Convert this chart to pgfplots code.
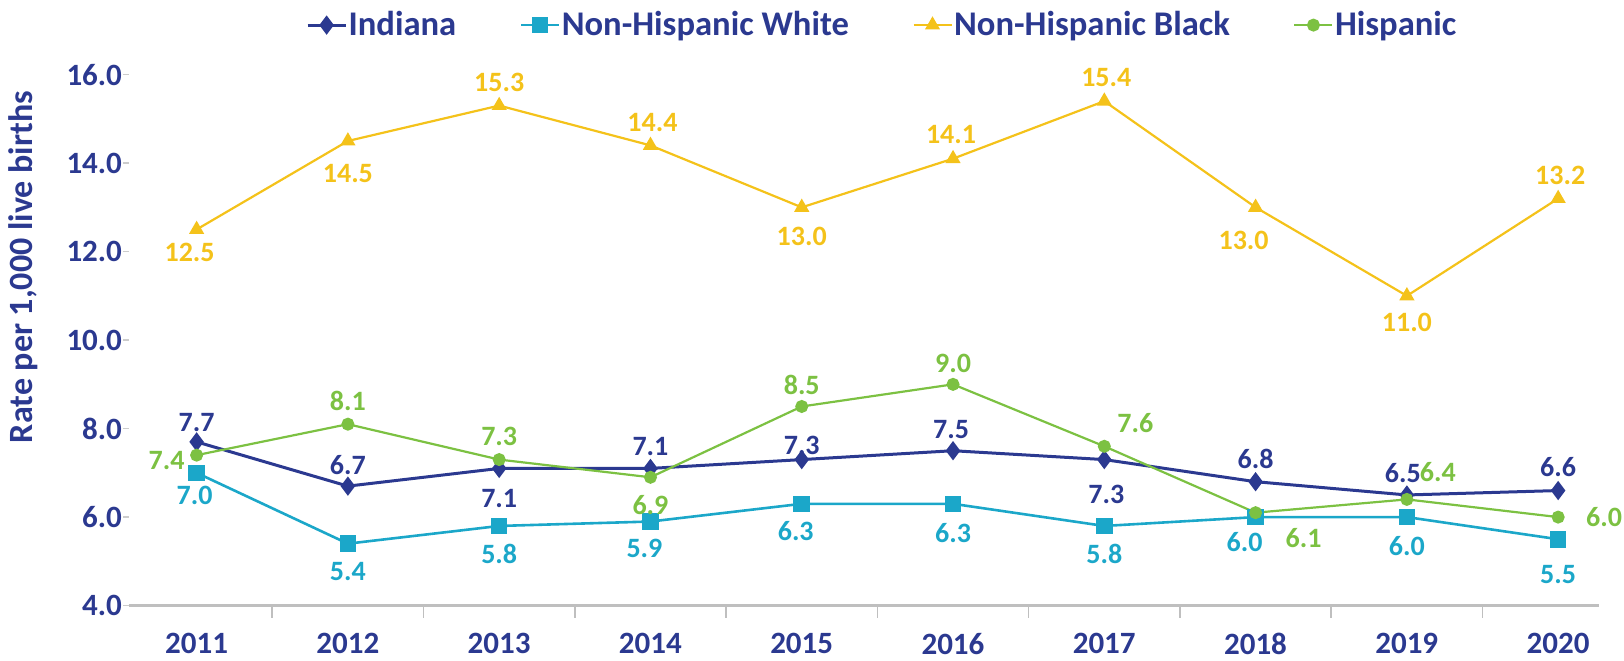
\documentclass[border=0pt]{standalone}
\usepackage{fontspec}
\setmainfont{Carlito}
\usepackage{pgfplots}
\usepackage{pgfplotstable}
\pgfplotsset{compat=1.18}

\definecolor{navy}{HTML}{2B3990}
\definecolor{cyanw}{HTML}{1BA7C9}
\definecolor{goldb}{HTML}{F4C21A}
\definecolor{greenh}{HTML}{7CC142}

% x  y  label offsets (pt)
\pgfplotstableread{
x    y    dx   dy
2011 7.7  0    9.5
2012 6.7  0    10.5
2013 7.1  0   -15
2014 7.1  0    11
2015 7.3  0    7
2016 7.5 -1    10.5
2017 7.3  1   -17.5
2018 6.8  0    11.5
2019 6.5 -2    11
2020 6.6  0    12
}\indiana

\pgfplotstableread{
x    y    dx   dy
2011 7.0 -1   -11.5
2012 5.4  0   -14
2013 5.8  0   -14
2014 5.9 -3   -13.5
2015 6.3 -3   -13.5
2016 6.3  0   -14.5
2017 5.8  0   -14
2018 6.0 -5.5 -12.5
2019 6.0  0   -14.5
2020 5.5  0   -17.5
}\white

\pgfplotstableread{
x    y    dx   dy
2011 12.5 -3.5 -11.5
2012 14.5  0   -16.5
2013 15.3  0    11.5
2014 14.4  1    11.5
2015 13.0  0   -14.5
2016 14.1 -1    12
2017 15.4  1    12
2018 13.0 -6   -16.5
2019 11.0  0   -13.5
2020 13.2  1    11.5
}\black

\pgfplotstableread{
x    y    dx   dy
2011 7.4 -15   -2.5
2012 8.1  0    11.5
2013 7.3  0    11.5
2014 6.9  0   -14
2015 8.5  0    11
2016 9.0  0    10.5
2017 7.6  15.5 11.5
2018 6.1  24  -12.5
2019 6.4  15.5 13.5
2020 6.0  23   0
}\hispanic

\begin{document}
\begin{tikzpicture}
\path[use as bounding box] (-64.5pt,-27.2pt) rectangle (747.5pt,302.8pt);
\begin{axis}[
    scale only axis,
    width=735pt, height=265.5pt,
    xmin=2010.553, xmax=2020.27,
    ymin=4, ymax=16,
    xtick={2011,...,2020},
    minor xtick={2011.5,2012.5,...,2019.5},
    ytick={4,6,...,16},
    axis lines*=left,
    x axis line style={draw=black!25, line width=1.2pt},
    y axis line style={draw=none},
    tick align=outside,
    major x tick style={draw=none},
    minor x tick style={draw=black!25, line width=0.8pt},
    minor tick length=6pt,
    y tick style={draw=black!20, line width=0.8pt},
    major tick length=3pt,
    /pgf/number format/assume math mode=true,
    xticklabel style={/pgf/number format/1000 sep={}, font=\fontsize{15.5}{16}\selectfont\bfseries, text=navy, anchor=center, yshift=-16pt},
    yticklabel style={/pgf/number format/fixed, /pgf/number format/zerofill, /pgf/number format/precision=1, font=\fontsize{15.5}{16}\selectfont\bfseries, text=navy, xshift=3pt},
    ylabel={Rate per 1,000 live births},
    ylabel style={at={(rel axis cs:0,0.6375)}, anchor=center, yshift=53pt, font=\fontsize{17}{18}\selectfont\bfseries, text=navy},
    legend style={at={(rel axis cs:0.5,1)}, anchor=center, xshift=9pt, yshift=24.75pt, draw=none, fill=none,
        font=\fontsize{17.3}{18}\selectfont\bfseries, text=navy,
        nodes={inner xsep=0.75pt},
        /tikz/every even column/.append style={column sep=31pt}},
    legend columns=4,
    legend image code/.code={\draw[mark repeat=2,mark phase=2] plot coordinates {(0pt,0pt) (9.5pt,0pt) (19pt,0pt)};},
    visualization depends on={\thisrow{dx}\as\dx},
    visualization depends on={\thisrow{dy}\as\dy},
    nodes near coords={\pgfmathprintnumber[fixed,zerofill,precision=1]{\pgfplotspointmeta}},
    every node near coord/.append style={anchor=center, xshift=\dx pt, yshift=\dy pt, font=\fontsize{14}{15}\selectfont\bfseries},
]
\addplot[color=navy, line width=1.5pt, mark=diamond*, mark size=3.6pt, every node near coord/.append style={text=navy}] table[x=x, y=y] {\indiana};
\addlegendentry{Indiana}
\addplot[color=cyanw, line width=1.3pt, mark=square*, mark size=3.5pt, every node near coord/.append style={text=cyanw}] table[x=x, y=y] {\white};
\addlegendentry{Non-Hispanic White}
\addplot[color=goldb, line width=1.1pt, mark=triangle*, mark size=3.3pt, every node near coord/.append style={text=goldb}] table[x=x, y=y] {\black};
\addlegendentry{Non-Hispanic Black}
\addplot[color=greenh, line width=1.1pt, mark=*, mark size=2.7pt, every node near coord/.append style={text=greenh}] table[x=x, y=y] {\hispanic};
\addlegendentry{Hispanic}
\end{axis}
\end{tikzpicture}
\end{document}
